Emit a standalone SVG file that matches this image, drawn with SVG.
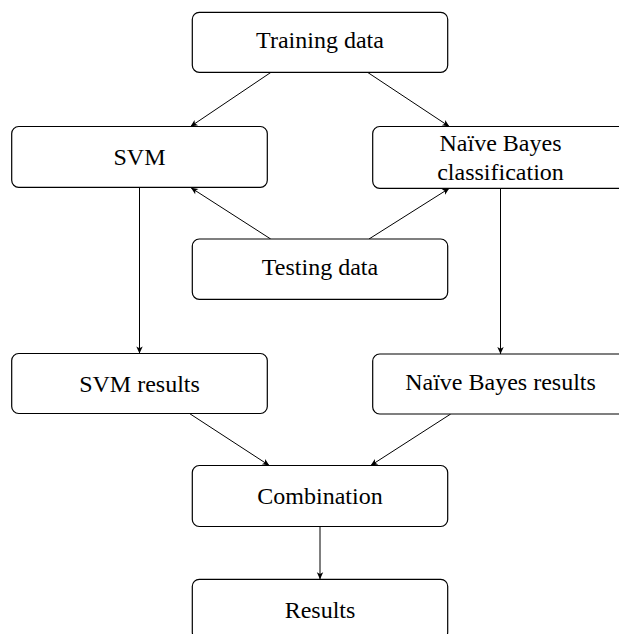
<svg xmlns="http://www.w3.org/2000/svg" width="619" height="634" viewBox="0 0 619 634">
  <style>
    .box { fill: #ffffff; stroke: #000000; stroke-width: 1.2; }
    .lbl { font-family: "Liberation Serif", "Times New Roman", serif; font-size: 24px; fill: #000000; text-anchor: middle; }
    .edge { fill: none; stroke: #000000; stroke-width: 1; marker-end: url(#arrow); }
  </style>
  <defs>
    <marker id="arrow" viewBox="-8 -4 9 8" refX="0" refY="0" markerWidth="9" markerHeight="8" markerUnits="userSpaceOnUse" orient="auto">
      <path d="M0,0 L-7,-3.2 L-5.2,0 L-7,3.2 Z" fill="#000000"/>
    </marker>
  </defs>
  <rect width="619" height="634" fill="#ffffff"/>

  <g id="connectors">
    <line class="edge" x1="271" y1="72.3" x2="190.5" y2="126.5"/>
    <line class="edge" x1="367.5" y1="72.3" x2="449.3" y2="126.5"/>
    <line class="edge" x1="270.7" y1="239" x2="191" y2="187.8"/>
    <line class="edge" x1="369" y1="239" x2="449.3" y2="188.3"/>
    <line class="edge" x1="139.5" y1="187.3" x2="139.5" y2="353.5"/>
    <line class="edge" x1="500.5" y1="188.3" x2="500.5" y2="354"/>
    <line class="edge" x1="189.5" y1="413.5" x2="269.3" y2="465.5"/>
    <line class="edge" x1="450.7" y1="414" x2="370.7" y2="465.5"/>
    <line class="edge" x1="320" y1="526.5" x2="320" y2="579.3"/>
  </g>

  <g id="training">
    <rect class="box" x="192.3" y="12.3" width="255.4" height="60" rx="7" ry="7"/>
    <text class="lbl" x="320" y="47.8">Training data</text>
  </g>
  <g id="svm">
    <rect class="box" x="11.7" y="126.5" width="255.6" height="60.8" rx="7" ry="7"/>
    <text class="lbl" x="139.5" y="165">SVM</text>
  </g>
  <g id="naive-bayes">
    <rect class="box" x="372.7" y="126.5" width="255.6" height="61.8" rx="7" ry="7"/>
    <text class="lbl" x="500.5" y="150.7">Naïve Bayes</text>
    <text class="lbl" x="500.5" y="180">classification</text>
  </g>
  <g id="testing">
    <rect class="box" x="192.3" y="239" width="255.4" height="60.3" rx="7" ry="7"/>
    <text class="lbl" x="320" y="274.5">Testing data</text>
  </g>
  <g id="svm-results">
    <rect class="box" x="11.7" y="353.5" width="255.6" height="60" rx="7" ry="7"/>
    <text class="lbl" x="139.5" y="392">SVM results</text>
  </g>
  <g id="nb-results">
    <rect class="box" x="372.7" y="354" width="255.6" height="60" rx="7" ry="7"/>
    <text class="lbl" x="500.5" y="390">Naïve Bayes results</text>
  </g>
  <g id="combination">
    <rect class="box" x="192.3" y="465.5" width="255.4" height="61" rx="7" ry="7"/>
    <text class="lbl" x="320" y="504">Combination</text>
  </g>
  <g id="results">
    <rect class="box" x="192.3" y="579.3" width="255.4" height="60" rx="7" ry="7"/>
    <text class="lbl" x="320" y="617.5">Results</text>
  </g>
</svg>
